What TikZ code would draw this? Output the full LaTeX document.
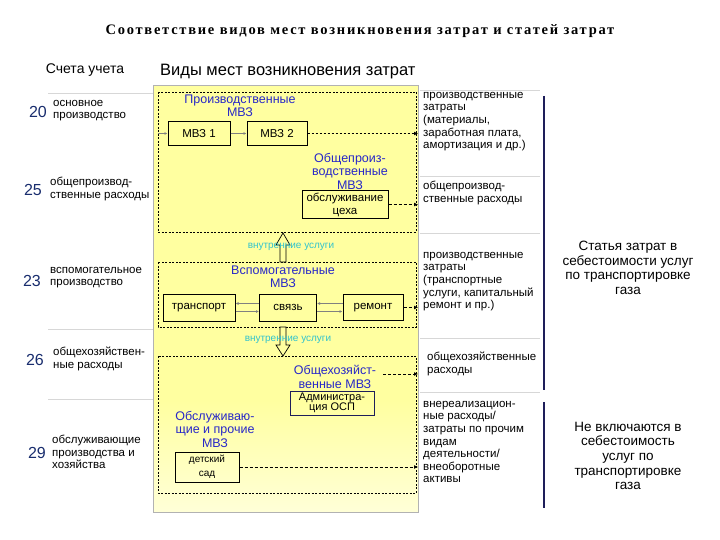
\documentclass[tikz,border=0pt]{standalone}
\usepackage{fontspec}
\setmainfont{Liberation Sans}
\newfontfamily\titlefont[LetterSpace=12]{Liberation Serif}
\usetikzlibrary{arrows.meta}
\definecolor{ylw}{RGB}{255,255,160}
\definecolor{ylwlight}{RGB}{255,255,215}
\definecolor{mvzblue}{RGB}{40,40,200}
\definecolor{numblue}{RGB}{25,45,110}
\definecolor{tealc}{RGB}{50,195,205}
\definecolor{navy}{RGB}{30,30,90}
\definecolor{sepgray}{RGB}{215,215,215}
\begin{document}
\begin{tikzpicture}[x=1pt,y=-1pt,
  txt/.style={anchor=north west, align=left, font=\fontsize{11.5}{12.6}\selectfont, inner sep=0pt},
  ctxt/.style={align=center, font=\fontsize{13.5}{14.6}\selectfont, inner sep=0pt},
  num/.style={font=\fontsize{16}{16}\selectfont, text=numblue, inner sep=0pt},
  mvz/.style={align=center, text=mvzblue, font=\fontsize{12.5}{13.5}\selectfont, inner sep=0pt},
  box/.style={draw, line width=1pt, align=center, font=\fontsize{11.5}{13}\selectfont, inner sep=0pt},
  zone/.style={draw, dash pattern=on 2pt off 1.5pt, line width=0.8pt},
  outarrow/.style={-{Latex[length=4pt,width=4pt]}, dash pattern=on 3pt off 2pt, line width=0.8pt},
  flow/.style={-{Latex[length=3pt,width=3pt]}, draw=gray, line width=0.8pt},
  hollow/.style={draw, line width=0.7pt, fill=ylw},
  uslugi/.style={text=tealc, font=\fontsize{10}{10}\selectfont, inner sep=0pt},
  sep/.style={draw=sepgray, line width=0.6pt},
  bar/.style={draw=navy, line width=2.2pt}
]
\useasboundingbox (0,0) rectangle (720,540);
\fill[white] (0,0) rectangle (720,540);

% title
\node (title) at (360,31) {\titlefont\bfseries\fontsize{14.5}{15}\selectfont Соответствие видов мест возникновения затрат и статей затрат};
\node (schet) at (85,70) {\fontsize{14}{14}\selectfont Счета учета};
\node[anchor=west, inner sep=0pt] (vidy) at (160,72) {\fontsize{16.5}{17}\selectfont Виды мест возникновения затрат};

% yellow area
\fill[ylw] (153,85) rectangle (418,400);
\shade[top color=ylw, bottom color=ylwlight] (153,400) rectangle (418,512);
\draw[draw=gray!60, line width=0.4pt] (153,85) rectangle (418,512);

% dashed zones
\draw[zone] (158,92) rectangle (416,232);
\draw[zone] (158,262) rectangle (416,327);
\draw[zone] (158,356) rectangle (416,493);

% left column separators
\draw[sep] (48,93) -- (153,93);
\draw[sep] (48,329) -- (153,329);
\draw[sep] (48,399) -- (153,399);
% right column separators
\draw[sep] (420,90) -- (540,90);
\draw[sep] (420,176) -- (540,176);
\draw[sep] (420,233) -- (540,233);
\draw[sep] (420,338) -- (540,338);
\draw[sep] (420,392) -- (540,392);

% left column
\node[num] (n20) at (38,112) {20};
\node[txt] (d20) at (53,100) {основное\\производство};
\node[num] (n25) at (33,190) {25};
\node[txt] (d25) at (50,177) {общепроизвод-\\ственные расходы};
\node[num] (n23) at (32,281) {23};
\node[txt] (d23) at (50,267) {вспомогательное\\производство};
\node[num] (n26) at (35,360) {26};
\node[txt] (d26) at (53,347) {общехозяйствен-\\ные расходы};
\node[num] (n29) at (37,453) {29};
\node[txt] (d29) at (52,435) {обслуживающие\\производства и\\хозяйства};

% top zone
\node[mvz] (prodlab) at (240,106) {Производственные\\МВЗ};
\node[box, minimum width=62pt, minimum height=24pt] (mvz1) at (199,133.5) {МВЗ 1};
\node[box, minimum width=60pt, minimum height=24pt] (mvz2) at (277,133.5) {МВЗ 2};
\coordinate (inL) at (158,133.5);
\draw[flow] (inL) -- (mvz1);
\draw[flow] (mvz1) -- (mvz2);
\coordinate (o1) at (418,133.5);
\draw[outarrow, dash pattern=on 2pt off 2pt, line width=1.1pt] (mvz2) -- (o1);
\node[mvz] (obshlab) at (350,171) {Общепроиз-\\водственные\\МВЗ};
\node[box, minimum width=86pt, minimum height=28pt, fill=ylw] (ceh) at (345,204.5) {обслуживание\\цеха};
\coordinate (o2) at (418,204.5);
\draw[outarrow] (ceh) -- (o2);

% hollow arrows
\draw[hollow] (280,262) -- (280,245) -- (276,245) -- (283,233) -- (290,245) -- (286,245) -- (286,262) -- cycle;
\draw[hollow] (280,327) -- (280,345) -- (276,345) -- (283,356) -- (290,345) -- (286,345) -- (286,327) -- cycle;
\node[uslugi] (us1) at (291,247) {внутренние услуги};
\node[uslugi] (us2) at (288,340) {внутренние услуги};

% middle zone
\node[mvz] (vspomlab) at (283,277) {Вспомогательные\\МВЗ};
\node[box, minimum width=72pt, minimum height=27pt] (trans) at (199,307.5) {транспорт};
\node[box, minimum width=57pt, minimum height=27pt] (svyaz) at (288,307.5) {связь};
\node[box, minimum width=60pt, minimum height=26pt] (remont) at (373,307.5) {ремонт};
\draw[flow] ([yshift=-4pt]trans.east) -- ([yshift=-4pt]svyaz.west);
\draw[flow] ([yshift=4pt]svyaz.west) -- ([yshift=4pt]trans.east);
\draw[flow] ([yshift=-4pt]svyaz.east) -- ([yshift=-4pt]remont.west);
\draw[flow] ([yshift=4pt]remont.west) -- ([yshift=4pt]svyaz.east);
\coordinate (o3) at (418,307.5);
\draw[outarrow] (remont) -- (o3);

% bottom zone
\node[mvz] (hozlab) at (335,377) {Общехозяйст-\\венные МВЗ};
\coordinate (hozout) at (383,374);
\coordinate (o4) at (418,374);
\draw[outarrow] (hozout) -- (o4);
\node[box, draw=navy, minimum width=84pt, minimum height=24pt, inner sep=1.5pt, font=\fontsize{11}{10.5}\selectfont] (adm) at (332,403) {Администра-\\ция ОСП};
\node[mvz] (obsllab) at (215,429) {Обслуживаю-\\щие и прочие\\МВЗ};
\node[box, minimum width=64pt, minimum height=30pt, font=\fontsize{10}{14}\selectfont] (sad) at (207,467) {детский\\сад};
\coordinate (o5) at (418,467);
\draw[outarrow] (sad) -- (o5);

% right text column
\node[txt] (r1) at (423,92) {производственные\\затраты\\(материалы,\\заработная плата,\\амортизация и др.)};
\node[txt] (r2) at (423,181) {общепроизвод-\\ственные расходы};
\node[txt] (r3) at (423,252) {производственные\\затраты\\(транспортные\\услуги, капитальный\\ремонт и пр.)};
\node[txt] (r4) at (427,352) {общехозяйственные\\расходы};
\node[txt] (r5) at (423,401) {внереализацион-\\ные расходы/\\затраты по прочим\\видам\\деятельности/\\внеоборотные\\активы};

% navy bars
\coordinate (b1t) at (544,96);
\coordinate (b1b) at (544,390);
\coordinate (b2t) at (544,402);
\coordinate (b2b) at (544,508);
\draw[bar] (b1t) -- (b1b);
\draw[bar] (b2t) -- (b2b);

% articles
\node[ctxt] (st1) at (628,268) {Статья затрат в\\себестоимости услуг\\по транспортировке\\газа};
\node[ctxt] (st2) at (628,456) {Не включаются в\\себестоимость\\услуг по\\транспортировке\\газа};
\end{tikzpicture}
\end{document}
